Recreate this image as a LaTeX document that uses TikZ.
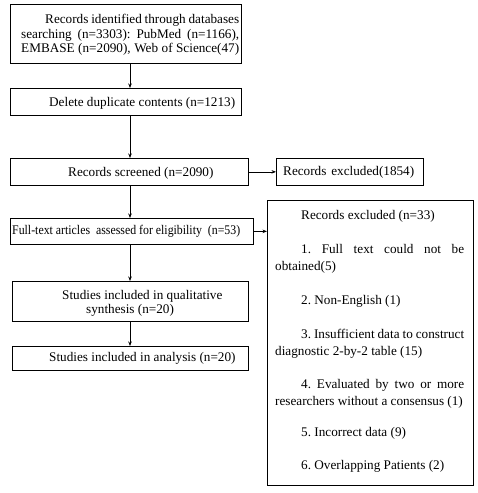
\documentclass[tikz,border=0pt]{standalone}
\usepackage{fontspec}
\setmainfont{Liberation Serif}
\usepackage{graphicx}
\usetikzlibrary{arrows.meta}
\frenchspacing
\begin{document}
\begin{tikzpicture}[x=1pt,y=-1pt,
 box/.style={draw, line width=0.7pt, inner sep=0pt, anchor=north west},
 txt/.style={inner sep=0pt, anchor=base west, font=\fontsize{13.2}{14.5}\selectfont},
 arr/.style={draw, line width=0.6pt, -{Stealth[length=4.5pt,width=3.5pt]}}]
\useasboundingbox (0,0) rectangle (478,493);
\fill[white] (0,0) rectangle (478,493);
\coordinate (ax) at (130,0);
% boxes
\node[box, minimum width=231pt, minimum height=59pt] (b1) at (10,4) {};
\node[box, minimum width=231pt, minimum height=27pt] (b2) at (10,88) {};
\node[box, minimum width=238pt, minimum height=27pt] (b3) at (10,158) {};
\node[box, minimum width=147pt, minimum height=27pt] (ex) at (276,158) {};
\node[box, minimum width=243pt, minimum height=26pt] (b4) at (10,218) {};
\node[box, minimum width=206pt, minimum height=285pt] (big) at (267,200) {};
\node[box, minimum width=236pt, minimum height=40pt] (b5) at (12,281) {};
\node[box, minimum width=236pt, minimum height=24pt] (b6) at (12,346) {};
% texts
\node[txt] (t1a) at (45,23.3) {\makebox[194pt][s]{Records identified through databases}};
\node[txt] (t1b) at (21,38) {\makebox[218pt][s]{searching (n=3303): PubMed (n=1166),}};
\node[txt] (t1c) at (21,52.5) {\makebox[218pt][s]{EMBASE (n=2090), Web of Science(47)}};
\node[txt] (t2) at (49,106) {Delete duplicate contents (n=1213)};
\node[txt] (t3) at (68,176.5) {Records screened (n=2090)};
\node[txt] (tex) at (283,175.5) {\makebox[131pt][s]{Records \ excluded(1854)}};
\node[txt] (t4) at (12,234.5) {\resizebox{228pt}{\height}{Full-text articles\ \ assessed for eligibility\ \ (n=53)}};
\node[txt] (t5a) at (62,299.5) {Studies included in qualitative};
\node[txt] (t5b) at (86,313.5) {synthesis (n=20)};
\node[txt] (t6) at (49,361.5) {Studies included in analysis (n=20)};
% big box texts
\node[txt] (g0) at (301,219.5) {Records excluded (n=33)};
\node[txt] (g1a) at (301,253) {\makebox[163pt][s]{1. Full text could not be}};
\node[txt] (g1b) at (275,270) {obtained(5)};
\node[txt] (g2) at (301,304) {2. Non-English (1)};
\node[txt] (g3a) at (301,338) {\makebox[163pt][s]{3. Insufficient data to construct}};
\node[txt] (g3b) at (275,355) {diagnostic 2-by-2 table (15)};
\node[txt] (g4a) at (301,388.5) {\makebox[163pt][s]{4. Evaluated by two or more}};
\node[txt] (g4b) at (275,405.5) {researchers without a consensus (1)};
\node[txt] (g5) at (301,436) {5. Incorrect data (9)};
\node[txt] (g6) at (301,469.5) {6. Overlapping Patients (2)};
% arrows
\draw[arr] (b1.south -| ax) -- (b2.north -| ax);
\draw[arr] (b2.south -| ax) -- (b3.north -| ax);
\draw[arr] (b3.south -| ax) -- (b4.north -| ax);
\draw[arr] (b4.south -| ax) -- (b5.north -| ax);
\draw[arr] (b5.south -| ax) -- (b6.north -| ax);
\draw[arr] (b3.east) -- (ex.west);
\draw[arr] (b4.east) -- (b4.east -| big.west);
\end{tikzpicture}
\end{document}
